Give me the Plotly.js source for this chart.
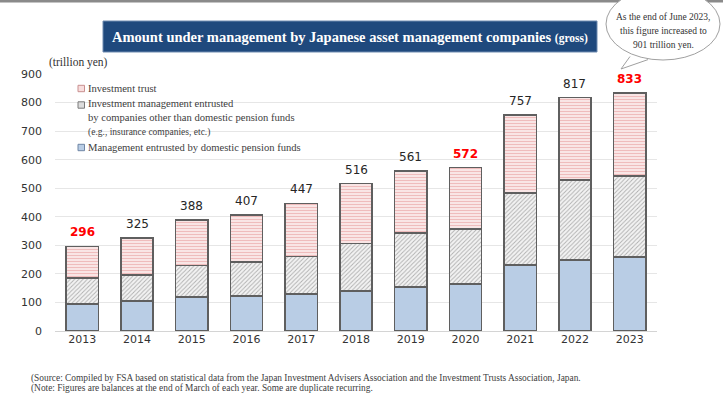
<!DOCTYPE html>
<html>
<head>
<meta charset="utf-8">
<script src="https://cdn.plot.ly/plotly-3.0.1.min.js"></script>
<style>html,body{margin:0;padding:0;background:#fff;}#chart{width:723px;height:398px;}</style>
</head>
<body>
<div id="chart"></div>
<script>
// ---- data ----
const years = ['2013','2014','2015','2016','2017','2018','2019','2020','2021','2022','2023'];
const pensionFunds = [95,105,119,122,129,140,154,164,231,249,259];
const otherEntrusted = [90,91,111,119,132,167,190,194,253,280,283];
const investmentTrust = [111,129,158,166,186,209,217,214,273,288,291];
const totals = [296,325,388,407,447,516,561,572,757,817,833];
const highlightYears = ['2013','2020','2023'];
const seriesNames = ['Management entrusted by domestic pension funds',
  'Investment management entrusted by companies other than domestic pension funds (e.g., insurance companies, etc.)',
  'Investment trust'];
const legendLines = [
  ['Investment trust'],
  ['Investment management entrusted','by companies other than domestic pension funds','(e.g., insurance companies, etc.)'],
  ['Management entrusted by domestic pension funds']
];
const titleText = 'Amount under management by Japanese asset management companies';
const titleSuffix = '(gross)';
const unitText = '(trillion yen)';
const calloutLines = ['As the end of June 2023,','this figure increased to','901 trillion yen.'];
const footnotes = ['(Source: Compiled by FSA based on statistical data from the Japan Investment Advisers Association and the Investment Trusts Association, Japan.',
  '(Note: Figures are balances at the end of March of each year. Some are duplicate recurring.'];

// ---- geometry helpers (pixel -> paper) ----
const W=723,H=398,L=55,R=66,T=74,B=67;
const PW=W-L-R, PH=H-T-B;
const px = x => (x-L)/PW;
const py = y => (H-B-y)/PH;

const serif = 'Liberation Serif, Times New Roman, serif';
const sans = 'DejaVu Sans, Verdana, sans-serif';
const outline = {color:'#5f5f5f', width:1.5};

const traces = [
  {type:'bar', name:seriesNames[0], x:years, y:pensionFunds, width:0.59,
   marker:{color:'#b9cde5', line:outline}, showlegend:false, hoverinfo:'x+y'},
  {type:'bar', name:seriesNames[1], x:years, y:otherEntrusted, width:0.59,
   marker:{color:'#ececec', line:outline, pattern:{shape:'/', fgcolor:'#b0b0b0', bgcolor:'#f3f3f3', size:3, solidity:0.3}},
   showlegend:false, hoverinfo:'x+y'},
  {type:'bar', name:seriesNames[2], x:years, y:investmentTrust, width:0.59,
   marker:{color:'#f8e0e0', line:outline, pattern:{shape:'-', fgcolor:'#efbcbc', bgcolor:'#fbeaea', size:3, solidity:0.4}},
   showlegend:false, hoverinfo:'x+y'}
];

const annotations = [];
const shapes = [];

// total labels
years.forEach((yr,i)=>{
  const hl = highlightYears.indexOf(yr) >= 0;
  annotations.push({xref:'x', yref:'y', x:i, y:totals[i],
    text: hl ? '<b>'+totals[i]+'</b>' : String(totals[i]), showarrow:false,
    yanchor:'middle', yshift:14,
    font:{family:sans, size:12, color: hl ? '#ff0000' : '#262626'}});
});

// top gray line
shapes.push({type:'rect', xref:'paper', yref:'paper', x0:px(0), x1:px(W), y0:py(0), y1:py(2.5), fillcolor:'#8a8a8a', line:{width:0}, layer:'above'});
// title box
shapes.push({type:'rect', xref:'paper', yref:'paper', x0:px(103), x1:px(597), y0:py(21), y1:py(52), fillcolor:'#1f497d', line:{color:'#6f8bb0', width:1}, layer:'above'});
annotations.push({xref:'paper', yref:'paper', x:px(350), y:py(36.5), xanchor:'center', yanchor:'middle', showarrow:false,
  text:'<b>'+titleText+' <span style="font-size:11.5px">'+titleSuffix+'</span></b>',
  font:{family:serif, size:14.5, color:'#ffffff'}});
// callout bubble
shapes.push({type:'circle', xref:'paper', yref:'paper', x0:px(606), x1:px(720), y0:py(-12), y1:py(60), fillcolor:'#ffffff', line:{color:'#a0a0a0', width:1}, layer:'above'});
shapes.push({type:'path', xref:'paper', yref:'paper',
  path:'M '+px(630)+' '+py(56.5)+' L '+px(621)+' '+py(69)+' L '+px(648)+' '+py(59.6),
  fillcolor:'#ffffff', line:{color:'#a0a0a0', width:1}, layer:'above'});
calloutLines.forEach((t,i)=>{
  annotations.push({xref:'paper', yref:'paper', x:px(663), y:py(17+i*14), xanchor:'center', yanchor:'middle', showarrow:false,
    text:t, font:{family:serif, size:9.5, color:'#333333'}});
});
// unit label
annotations.push({xref:'paper', yref:'paper', x:px(47), y:py(63), xanchor:'left', yanchor:'middle', showarrow:false,
  text:unitText, font:{family:serif, size:11.5, color:'#333333'}});

// legend background
shapes.push({type:'rect', xref:'paper', yref:'paper', x0:px(66), x1:px(321), y0:py(79), y1:py(156), fillcolor:'#ffffff', line:{width:0}, layer:'between'});
// manual legend
const legendColors = [['#f8dede','#c98f8f'],['#dcdcdc','#7a7a7a'],['#b9cde5','#6f86a5']];
const legendSymY = [88.5, 105, 147.5];
const legendTextY = [88.5, 118, 147.5];
legendLines.forEach((lines,k)=>{
  const ys = legendSymY[k];
  shapes.push({type:'rect', xref:'paper', yref:'paper', x0:px(78), x1:px(84.5), y0:py(ys-3.2), y1:py(ys+3.2),
    fillcolor:legendColors[k][0], line:{color:legendColors[k][1], width:1}, layer:'above'});
  const txt = lines.map((t,j)=> (k===1 && j===2) ? '<span style="font-size:9.5px">'+t+'</span>' : t).join('<br>');
  annotations.push({xref:'paper', yref:'paper', x:px(87), y:py(legendTextY[k]), xanchor:'left', yanchor:'middle', align:'left',
    showarrow:false, borderpad:0, text:txt, font:{family:serif, size:10.6, color:'#404040'}});
});
// footnotes
footnotes.forEach((t,i)=>{
  annotations.push({xref:'paper', yref:'paper', x:px(29), y:py(378+i*10.5), xanchor:'left', yanchor:'middle', showarrow:false,
    text:t, font:{family:serif, size:9.4, color:'#404040'}});
});

const layout = {
  width:W, height:H,
  margin:{l:L, r:R, t:T, b:B, pad:0},
  paper_bgcolor:'#ffffff', plot_bgcolor:'#ffffff',
  barmode:'stack',
  showlegend:false,
  xaxis:{type:'category', range:[-0.5,10.5], showgrid:false, showline:false, zeroline:false, ticks:'',
    tickfont:{family:sans, size:11, color:'#333333'}, fixedrange:true},
  yaxis:{range:[0,900], dtick:100, showgrid:true, gridcolor:'#e6e6e6', gridwidth:1, zeroline:true, zerolinecolor:'#d4d4d4', zerolinewidth:1,
    showline:false, ticks:'', ticklabelstandoff:12, tickfont:{family:sans, size:11, color:'#333333'}, fixedrange:true},
  annotations:annotations,
  shapes:shapes
};

Plotly.newPlot('chart', traces, layout, {staticPlot:true, displayModeBar:false});
</script>
</body>
</html>
